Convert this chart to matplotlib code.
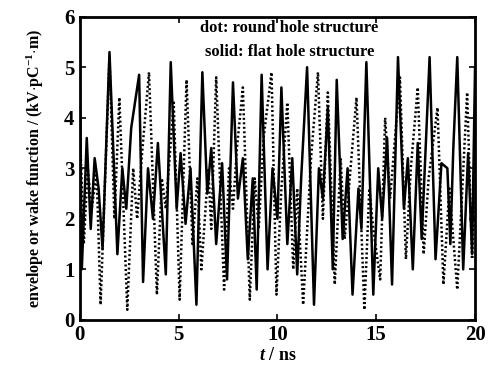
import numpy as np
import matplotlib.pyplot as plt

# turning points (t in ns, value in kV/pC/m)
solid_t = [0.0, 0.1, 0.35, 0.55, 0.75, 0.95, 1.15, 1.5, 1.9, 2.15, 2.35, 2.6, 3.0,
           3.2, 3.45, 3.7, 3.95, 4.35, 4.6, 4.9, 5.1, 5.35, 5.6, 5.9, 6.2, 6.45,
           6.65, 6.9, 7.2, 7.45, 7.75, 8.0, 8.25, 8.5, 8.75, 8.95, 9.2, 9.5, 9.75,
           10.0, 10.2, 10.5, 10.75, 11.0, 11.2, 11.5, 11.85, 12.1, 12.3, 12.55,
           12.8, 13.0, 13.3, 13.55, 13.8, 14.1, 14.25, 14.5, 14.85, 15.1, 15.3,
           15.55, 15.8, 16.1, 16.4, 16.6, 16.85, 17.1, 17.3, 17.7, 18.0, 18.3,
           18.6, 18.75, 18.9, 19.1, 19.4, 19.65, 19.85, 20.0]
solid_v = [4.8, 1.0, 3.6, 1.8, 3.2, 2.6, 1.4, 5.3, 1.3, 3.0, 2.2, 3.8, 4.85,
           0.75, 3.0, 2.0, 3.5, 0.9, 5.1, 2.2, 3.3, 1.9, 3.0, 0.3, 4.9, 2.5,
           3.4, 1.5, 3.1, 0.8, 4.7, 2.4, 3.2, 1.2, 2.8, 0.6, 4.85, 1.0, 3.0,
           2.0, 4.6, 1.5, 3.2, 0.9, 2.8, 5.0, 0.3, 3.0, 2.4, 4.2,
           1.0, 4.75, 1.6, 3.0, 0.5, 2.6, 1.8, 5.1, 0.5, 3.0, 2.0,
           3.6, 0.7, 5.2, 2.2, 3.2, 1.0, 3.5, 1.6, 5.2, 1.2, 3.1,
           3.0, 1.5, 3.4, 5.2, 1.0, 3.3, 1.3, 5.0]

dot_t = [0.0, 0.2, 0.4, 0.6, 0.85, 1.05, 1.5, 1.75, 2.0, 2.4, 2.7, 2.9, 3.15,
         3.5, 3.9, 4.15, 4.35, 4.75, 5.05, 5.4, 5.7, 5.95, 6.15, 6.5, 6.65,
         6.9, 7.3, 7.55, 7.75, 7.95, 8.25, 8.6, 8.85, 9.05, 9.3, 9.7, 9.95,
         10.2, 10.5, 10.8, 11.0, 11.3, 11.7, 12.05, 12.3, 12.55, 12.9, 13.2,
         13.4, 13.7, 14.0, 14.4, 14.65, 14.85, 15.2, 15.45, 15.7, 16.2, 16.5,
         16.75, 17.1, 17.4, 17.65, 18.1, 18.4, 18.7, 18.9, 19.1, 19.6, 19.85, 20.0]
dot_v = [3.8, 1.5, 3.0, 2.2, 2.9, 0.3, 5.2, 2.0, 4.4, 0.2, 3.0, 2.0, 3.3,
         4.9, 0.5, 2.8, 2.2, 4.3, 0.4, 4.75, 1.5, 2.8, 1.0, 3.0, 1.8,
         4.8, 0.6, 3.0, 2.2, 3.4, 4.6, 0.4, 2.8, 1.8, 3.6, 4.9, 0.5,
         2.6, 4.3, 1.0, 2.6, 0.3, 3.2, 4.9, 2.0, 4.5, 0.7, 3.2,
         1.6, 3.0, 4.4, 0.2, 2.6, 1.8, 0.8, 4.0, 2.4, 4.8, 1.2,
         3.0, 4.6, 1.3, 2.8, 4.2, 0.7, 2.6, 1.6, 0.6, 4.5, 1.2, 2.8]

serif = ['Liberation Serif', 'DejaVu Serif']
plt.rcParams['font.family'] = serif
plt.rcParams['font.weight'] = 'bold'
plt.rcParams['mathtext.fontset'] = 'custom'
plt.rcParams['mathtext.rm'] = 'Liberation Serif:bold'
plt.rcParams['mathtext.it'] = 'Liberation Serif:italic:bold'

fig = plt.figure(figsize=(4.99, 3.79), dpi=100)
ax = fig.add_axes([0.160, 0.156, 0.792, 0.800])

ax.plot(solid_t, solid_v, color='black', lw=1.8, ls='-')
ax.plot(dot_t, dot_v, color='black', lw=1.8, ls=(0, (0.8, 1.0)))

ax.set_xlim(0, 20)
ax.set_ylim(0, 6)
ax.set_xticks([0, 5, 10, 15, 20])
ax.set_yticks(range(7))
ax.tick_params(direction='in', top=True, right=True, length=4, width=1.2,
               labelsize=15, pad=4)
for s in ax.spines.values():
    s.set_linewidth(2)

ax.text(0.53, 0.99, 'dot: round hole structure', transform=ax.transAxes,
        ha='center', va='top', fontsize=12, fontweight='bold')
ax.text(0.53, 0.91, 'solid: flat hole structure', transform=ax.transAxes,
        ha='center', va='top', fontsize=12, fontweight='bold')

ax.set_xlabel(r'$t$ / ns', fontsize=13, fontweight='bold', labelpad=1)
ax.set_ylabel(r'envelope or wake function / (kV$\cdot$pC$^{-1}$$\cdot$m)',
              fontsize=11.5, fontweight='bold', labelpad=13)

fig.savefig('out.png', dpi=100)
